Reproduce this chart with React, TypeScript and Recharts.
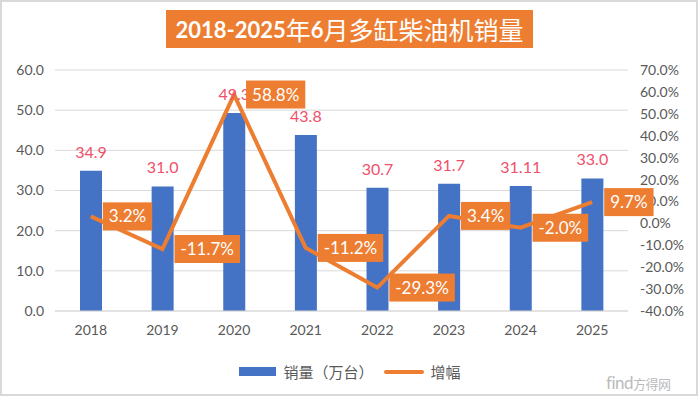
import React from "react";
import { ComposedChart, Bar, Line, XAxis, YAxis, CartesianGrid, LabelList, Legend } from "recharts";

const years = ["2018", "2019", "2020", "2021", "2022", "2023", "2024", "2025"];
const sales = [34.9, 31.0, 49.3, 43.8, 30.7, 31.7, 31.11, 33.0];
const salesLabels = ["34.9", "31.0", "49.3", "43.8", "30.7", "31.7", "31.11", "33.0"];
const growth = [3.2, -11.7, 58.8, -11.2, -29.3, 3.4, -2.0, 9.7];
const growthLabels = ["3.2%", "-11.7%", "58.8%", "-11.2%", "-29.3%", "3.4%", "-2.0%", "9.7%"];
const leftTicks = [0, 10, 20, 30, 40, 50, 60];
const rightTicks = [-40, -30, -20, -10, 0, 10, 20, 30, 40, 50, 60, 70];
const seriesNames = ["销量（万台）", "增幅"];

const data = years.map((y, i) => ({ year: y, sales: sales[i], growth: growth[i] }));

const FONT = "Lato, 'Noto Sans CJK SC', sans-serif";
const BLUE = "#4472C4";
const ORANGE = "#ED7D31";

let ctx: CanvasRenderingContext2D | null = null;
function measure(text: string, font: string): number {
  if (!ctx) {
    const c = document.createElement("canvas");
    ctx = c.getContext("2d");
  }
  if (!ctx) return text.length * 9;
  ctx.font = font;
  return ctx.measureText(text).width;
}

const BarLabel = (props: any) => {
  const { x, y, width, index } = props;
  return (
    <text x={x + width / 2} y={y - 13} textAnchor="middle" fontSize={16} fill="#F0506A" fontFamily={FONT}>
      {salesLabels[index]}
    </text>
  );
};

const LineLabel = (props: any) => {
  const { x, y, index } = props;
  const t = growthLabels[index];
  const w = measure(t, `17px Lato`) + 12;
  const bx = x + 12;
  return (
    <g>
      <rect x={bx} y={y - 14} width={w} height={28} fill={ORANGE} />
      <text x={bx + w / 2} y={y + 6} textAnchor="middle" fontSize={17} fill="#FFFFFF" fontFamily={FONT}>
        {t}
      </text>
    </g>
  );
};

const LegendContent = () => (
  <div style={{ display: "flex", justifyContent: "center", alignItems: "center", fontFamily: FONT, fontSize: 15, color: "#595959" }}>
    <span style={{ display: "inline-block", width: 37, height: 9, background: BLUE, marginRight: 7 }} />
    <span style={{ marginRight: 10 }}>{seriesNames[0]}</span>
    <span style={{ display: "inline-block", width: 40, height: 4, background: ORANGE, borderRadius: 2, marginRight: 7 }} />
    <span>{seriesNames[1]}</span>
  </div>
);

export default function App() {
  return (
    <div style={{ position: "absolute", left: 0, top: 0, width: 700, height: 398, background: "#fff", overflow: "hidden" }}>
      <div style={{ position: "absolute", left: 0, top: 0, width: 698, height: 396, border: "2px solid #D9D9D9", boxSizing: "border-box" }} />
      <div
        style={{
          position: "absolute",
          left: 166,
          top: 10,
          width: 367,
          height: 38,
          background: ORANGE,
          color: "#fff",
          display: "flex",
          alignItems: "center",
          justifyContent: "center",
          whiteSpace: "nowrap",
          fontFamily: FONT,
        }}
      >
        <span style={{ fontWeight: 700, fontSize: 22, fontFamily: "Lato, sans-serif" }}>2018-2025</span>
        <span style={{ fontSize: 25, fontFamily: "'Noto Sans CJK SC', sans-serif" }}>年</span>
        <span style={{ fontWeight: 700, fontSize: 22, fontFamily: "Lato, sans-serif" }}>6</span>
        <span style={{ fontSize: 25, fontFamily: "'Noto Sans CJK SC', sans-serif" }}>月多缸柴油机销量</span>
      </div>
      <div style={{ position: "absolute", left: 0, top: 0 }}>
        <ComposedChart width={700} height={398} data={data} margin={{ top: 70, right: 0, bottom: 0, left: 0 }}>
          <CartesianGrid yAxisId="left" vertical={false} stroke="#D9D9D9" strokeWidth={1} />
          <XAxis
            dataKey="year"
            axisLine={{ stroke: "#D9D9D9" }}
            tickLine={false}
            tickMargin={8}
            tick={{ fontSize: 14, fill: "#595959", fontFamily: FONT }}
            height={87}
          />
          <YAxis
            yAxisId="left"
            domain={[0, 60]}
            ticks={leftTicks}
            width={55}
            axisLine={false}
            tickLine={false}
            tickMargin={5}
            tickFormatter={(v: number) => v.toFixed(1)}
            tick={{ fontSize: 14, fill: "#595959", fontFamily: FONT }}
          />
          <YAxis
            yAxisId="right"
            orientation="right"
            domain={[-40, 70]}
            ticks={rightTicks}
            width={72}
            axisLine={false}
            tickLine={false}
            tickMargin={6}
            interval={0}
            tickFormatter={(v: number) => `${v.toFixed(1)}%`}
            tick={{ fontSize: 14, fill: "#595959", fontFamily: FONT }}
          />
          <Legend
            verticalAlign="middle"
            align="center"
            content={<LegendContent />}
            wrapperStyle={{ top: 361, left: 0, width: 700, height: 20 }}
          />
          <Bar yAxisId="left" dataKey="sales" name={seriesNames[0]} fill={BLUE} barSize={22} isAnimationActive={false}>
            <LabelList dataKey="sales" content={<BarLabel />} />
          </Bar>
          <Line
            yAxisId="right"
            dataKey="growth"
            name={seriesNames[1]}
            type="linear"
            stroke={ORANGE}
            strokeWidth={4}
            dot={false}
            isAnimationActive={false}
          >
            <LabelList dataKey="growth" content={<LineLabel />} />
          </Line>
        </ComposedChart>
      </div>
      <div style={{ position: "absolute", left: 606, top: 372, fontFamily: FONT, fontSize: 17, color: "#BBBBBB", letterSpacing: -0.5 }}>
        find<span style={{ fontSize: 13, fontFamily: "'Noto Sans CJK SC', sans-serif" }}>方得网</span>
      </div>
    </div>
  );
}
